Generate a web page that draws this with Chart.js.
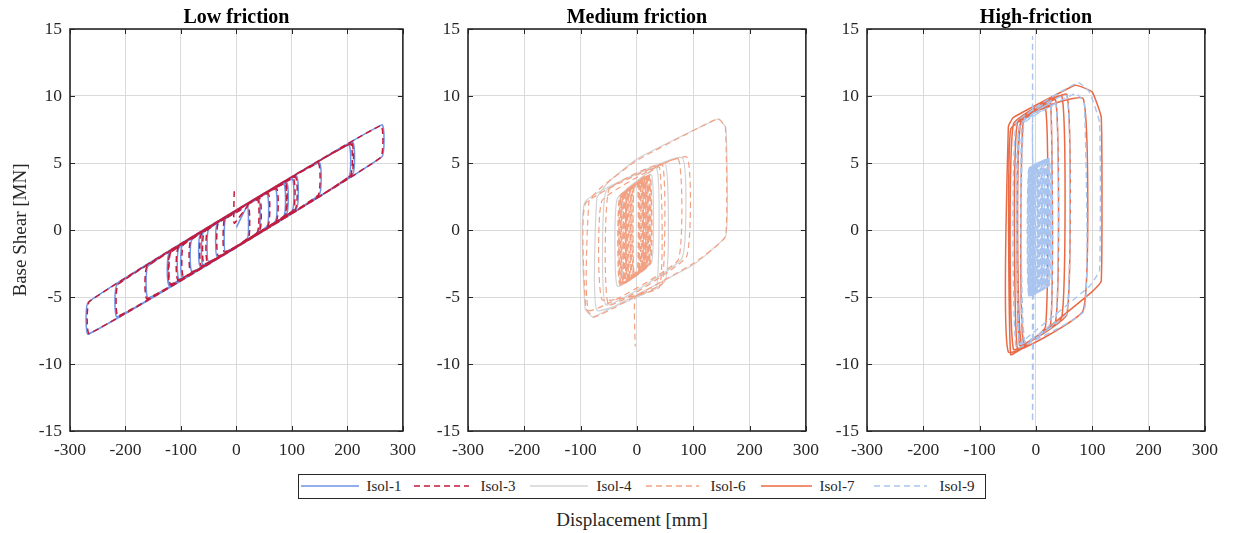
<!DOCTYPE html>
<html>
<head>
<meta charset="utf-8">
<script src="https://cdn.jsdelivr.net/npm/chart.js@4.4.1/dist/chart.umd.min.js"></script>
<style>
  html, body { margin: 0; padding: 0; background: #fff; }
  body { width: 1235px; height: 533px; position: relative; overflow: hidden;
         font-family: 'Liberation Serif', 'Times New Roman', serif; color: #262626; }
  .panel { position: absolute; top: 0; height: 460px; }
  .panel canvas { display: block; }
  #legend { position: absolute; left: 298px; top: 474px; width: 688px; height: 25px;
            box-sizing: border-box; border: 1.6px solid #262626; background: #fff; }
  #legend .sample { position: absolute; top: 0; height: 22px; }
  #legend .name { position: absolute; top: 0; line-height: 22px; font-size: 15px; white-space: nowrap; }
  #xtitle { position: absolute; left: 482px; width: 300px; top: 508px; text-align: center;
            font-size: 19px; line-height: 24px; }
</style>
</head>
<body>
<div class="panel" id="p1"><canvas id="c1"></canvas></div>
<div class="panel" id="p2"><canvas id="c2"></canvas></div>
<div class="panel" id="p3"><canvas id="c3"></canvas></div>
<div id="legend"></div>
<div id="xtitle">Displacement [mm]</div>
<script>
// ---- axes ----
const xTicks = [-300, -200, -100, 0, 100, 200, 300];
const yTicks = [-15, -10, -5, 0, 5, 10, 15];

// ---- panel titles and series names ----
const panelTitles = ['Low friction', 'Medium friction', 'High-friction'];
const seriesNames = ['Isol-1', 'Isol-3', 'Isol-4', 'Isol-6', 'Isol-7', 'Isol-9'];

// ---- displacement [mm], base shear [MN] paths ----
const isol1Low = [
  [0, 0.2], [20, 1.8], [20, -0.6], [-35, -1.98], [-35, 0.43], [40, 2.3], [40, -0.1],
  [-50, -2.35], [-50, 0.05], [55, 2.68], [55, 0.28], [-65, -2.73], [-65, -0.33],
  [70, 3.05], [70, 0.65], [-80, -3.1], [-80, -0.7], [85, 3.43], [85, 1.03],
  [-97, -3.53], [-97, -1.13], [108, 4.0], [108, 1.6], [-103, -3.68], [-103, -1.28],
  [100, 3.8], [100, 1.4], [-121, -4.13], [-121, -1.73], [149, 5.03], [149, 2.63],
  [-159, -5.08], [-159, -2.68], [202, 6.35], [202, 3.95], [-215, -6.48], [-215, -4.08],
  [262, 7.85], [262, 5.45], [-267, -7.78], [-267, -5.38], [209, 6.53], [209, 4.13],
  [-120, -4.1], [-120, -1.7], [90, 3.55], [90, 1.15], [-60, -2.6], [-60, -0.2],
  [40, 2.3], [40, -0.1], [-20, -1.6], [-20, 0.8], [10, 1.55]
];
const isol3Low = [
  [-4, 2.9], [-4, 0.5], [22, 1.85], [22, -0.55], [-33, -1.93], [-33, 0.47], [42, 2.35],
  [42, -0.05], [-52, -2.4], [-52, 0.0], [57, 2.73], [57, 0.33], [-63, -2.68], [-63, -0.28],
  [72, 3.1], [72, 0.7], [-82, -3.15], [-82, -0.75], [87, 3.48], [87, 1.08],
  [-95, -3.48], [-95, -1.08], [106, 3.95], [106, 1.55], [-105, -3.73], [-105, -1.33],
  [102, 3.85], [102, 1.45], [-119, -4.08], [-119, -1.68], [147, 4.98], [147, 2.58],
  [-161, -5.13], [-161, -2.73], [205, 6.43], [205, 4.03], [-213, -6.43], [-213, -4.03],
  [260, 7.8], [260, 5.4], [-265, -7.73], [-265, -5.33], [207, 6.48], [207, 4.08],
  [-118, -4.05], [-118, -1.65], [88, 3.5], [88, 1.1], [-58, -2.55], [-58, -0.15],
  [38, 2.25], [38, -0.15], [-22, -1.65], [-22, 0.75], [8, 1.5]
];
const isol4Med = [
  [0, 3.6], [18, 3.9], [18, -2.7], [-24, -3.9], [-24, 2.6], [26, 4.1], [26, -2.4],
  [-35, -4.2], [-35, 2.3], [50, 5.0], [50, -3.8], [-71, -6.0], [-71, 2.4], [-50, 3.6],
  [0, 5.3], [145, 8.3], [158, 7.6], [158, -0.4], [100, -2.6], [-40, -5.7], [-78, -6.5],
  [-92, -5.9], [-92, 2.1], [80, 5.4], [80, -2.1], [-55, -5.6], [-55, 2.9], [35, 4.6],
  [35, -4.3], [-5, -5.0]
];
const isol6Med = [
  [0, 3.3], [24, 4.0], [24, -2.5], [-30, -4.1], [-30, 2.4], [20, 3.9], [20, -2.6],
  [-26, -4.0], [-26, 2.5], [16, 3.8], [16, -2.7], [-22, -3.9], [-22, 2.6], [12, 3.7],
  [12, -2.8], [-18, -3.7], [-18, 2.8], [22, 4.0], [22, -2.5], [-14, -3.6], [-14, 2.9],
  [18, 3.8], [18, -2.7], [-28, -4.0], [-28, 2.5], [8, 3.5], [8, -3.0], [-10, -3.5],
  [-10, 3.0], [14, 3.7], [14, -2.8], [-20, -3.8], [-20, 2.7], [4, 3.4], [4, -3.1],
  [-6, -3.4], [-6, 3.1], [10, 3.6], [10, -2.9], [-16, -3.7], [-16, 2.8],
  [23, 4.1], [23, -2.4], [-29, -4.0], [-29, 2.5], [19, 4.0], [19, -2.5], [-25, -3.9],
  [-25, 2.6], [15, 3.9], [15, -2.7], [-21, -3.7], [-21, 2.8], [11, 3.7], [11, -2.8],
  [-17, -3.6], [-17, 2.9], [7, 3.6], [7, -2.9], [-13, -3.5], [-13, 3.0], [3, 3.5],
  [3, -3.0], [-9, -3.4], [-9, 3.1], [21, 4.0], [21, -2.5], [-5, -3.3], [-5, 3.3],
  [17, 3.9], [17, -2.6], [-31, -4.0], [-31, 2.5], [13, 3.8], [13, -2.7], [-27, -3.9],
  [-27, 2.6], [9, 3.7], [9, -2.8], [-23, -3.8], [-23, 2.7], [5, 3.6], [5, -3.0],
  [-19, -3.7], [-19, 2.8], [1, 3.4], [1, -3.1], [-15, -3.6], [-15, 2.9], [2, 3.5],
  [2, -3.0], [-11, -3.4], [-11, 3.0], [6, 3.6], [6, -2.9], [-7, -3.3], [-7, 3.2],
  [40, 4.7], [40, -4.25], [-62, -5.2], [-62, 2.2], [73, 5.3], [73, -2.25],
  [-85, -6.0], [-85, 2.2], [-60, 3.3], [0, 5.2], [143, 8.3], [157, 7.7], [157, -0.5],
  [100, -2.5], [-40, -5.8], [-77, -6.5], [-91, -5.8], [-91, 2.0], [88, 5.46], [88, -2.0],
  [-50, -5.6], [-50, 3.0], [45, 4.9], [45, -4.0], [-3, -5.0], [-3, -8.7]
];
const isol7High = [
  [0, 8.8], [26, 9.5], [26, -7.0], [-29, -8.6], [-29, 7.8], [35, 9.7], [35, -6.8],
  [-40, -8.9], [-40, 7.9], [46, 10.0], [46, -6.5], [-26, -8.5], [-26, 8.3], [84, 9.8],
  [84, -6.0], [-49, -9.1], [-49, 7.7], [-40, 8.4], [69, 10.8], [80, 10.7], [100, 10.3],
  [116, 8.4], [116, -3.8], [100, -4.6], [-20, -8.7], [-45, -9.3], [-45, 7.5], [17, 9.1],
  [17, -7.2], [-33, -8.9], [-33, 8.0], [55, 10.1], [55, -6.3], [-22, -8.4], [-22, 8.4],
  [30, 9.3]
];
const isol9High = [
  [-6, 0], [-6, 14.4], [-6, -14.3], [-4, -4.7], [-4, 4.6],
  [23, 5.3], [23, -4.1], [-12, -4.8], [-12, 4.6], [20, 5.2], [20, -4.2], [-9, -4.8],
  [-9, 4.6], [17, 5.1], [17, -4.3], [-6, -4.7], [-6, 4.7], [14, 5.1], [14, -4.3],
  [-3, -4.7], [-3, 4.7], [11, 5.0], [11, -4.4], [0, -4.6], [0, 4.8], [8, 4.9], [8, -4.4],
  [-11, -4.8], [-11, 4.6], [21, 5.2], [21, -4.2], [-7, -4.7], [-7, 4.7], [15, 5.1],
  [15, -4.3], [-4, -4.7], [-4, 4.7], [5, 4.9], [5, -4.5], [-10, -4.8], [-10, 4.6],
  [18, 5.2], [18, -4.2], [-1, -4.6], [-1, 4.8], [12, 5.0], [12, -4.4], [-8, -4.8],
  [-8, 4.6], [9, 5.0], [9, -4.4], [-5, -4.7], [-5, 4.7],
  [22, 5.3], [22, -4.1], [-2, -4.7], [-2, 4.7], [19, 5.2], [19, -4.2], [-13, -4.9],
  [-13, 4.5], [16, 5.1], [16, -4.3], [-9.5, -4.8], [-9.5, 4.6], [13, 5.0], [13, -4.3],
  [-6.5, -4.7], [-6.5, 4.6], [10, 5.0], [10, -4.4], [-3.5, -4.7], [-3.5, 4.7], [7, 4.9],
  [7, -4.5], [-0.5, -4.6], [-0.5, 4.8], [4, 4.9], [4, -4.5], [-12.5, -4.9], [-12.5, 4.5],
  [2, 4.8], [2, -4.6], [-7.5, -4.8], [-7.5, 4.6], [24, 5.3], [24, -4.1], [-4.5, -4.7],
  [-4.5, 4.7], [6, 4.9], [6, -4.5], [-1.5, -4.6], [-1.5, 4.8], [3, 4.9], [3, -4.5],
  [-10.5, -4.8], [-10.5, 4.6], [1, 4.8], [1, -4.6], [-5.5, -4.7], [-5.5, 4.7],
  [-5, 8.6], [26, 9.4], [26, -7.0], [-29, -8.5], [-29, 7.8], [35, 9.6], [35, -6.8],
  [-35, -8.8], [-35, 8.0], [55, 10.0], [55, -6.2], [-20, -8.3], [-20, 8.4], [75, 11.0],
  [95, 10.3], [113, 8.0], [113, -3.0], [95, -4.2], [-15, -8.0], [-30, -8.5], [-30, 7.6],
  [70, 10.2], [86, 9.5], [86, -6.0], [-20, -8.6], [-25, -8.4], [-25, 8.0], [10, 8.9]
];

// ---- line styles per series ----
const seriesStyle = {
  'Isol-1': { color: '#6f93e6', dash: [], width: 1.5 },
  'Isol-3': { color: '#c41a3b', dash: [6, 4], width: 1.5 },
  'Isol-4': { color: '#d3d3d6', dash: [], width: 1.2 },
  'Isol-6': { color: '#f3a183', dash: [6, 4], width: 1.2 },
  'Isol-7': { color: '#ea6a45', dash: [], width: 1.5 },
  'Isol-9': { color: '#a9c4ee', dash: [6, 4], width: 1.4 }
};

const serif = "'Liberation Serif', 'Times New Roman', serif";
const ink = '#262626';

// frame around the plot area plus MATLAB-style inward tick marks on all four sides
const frameTicks = {
  id: 'frameTicks',
  afterDatasetsDraw(chart) {
    const { ctx, chartArea: a, scales: { x, y } } = chart;
    const len = 5;
    ctx.save();
    ctx.strokeStyle = ink;
    ctx.lineWidth = 1;
    ctx.beginPath();
    xTicks.forEach(v => {
      const px = Math.round(x.getPixelForValue(v)) + 0.5;
      ctx.moveTo(px, a.bottom); ctx.lineTo(px, a.bottom - len);
      ctx.moveTo(px, a.top); ctx.lineTo(px, a.top + len);
    });
    yTicks.forEach(v => {
      const py = Math.round(y.getPixelForValue(v)) + 0.5;
      ctx.moveTo(a.left, py); ctx.lineTo(a.left + len, py);
      ctx.moveTo(a.right, py); ctx.lineTo(a.right - len, py);
    });
    ctx.stroke();
    ctx.lineWidth = 1.6;
    ctx.strokeRect(a.left, a.top, a.right - a.left, a.bottom - a.top);
    ctx.restore();
  }
};

function line(name, data, order) {
  const s = seriesStyle[name];
  return {
    label: name, data, order,
    borderColor: s.color, borderDash: s.dash, borderWidth: s.width,
    showLine: true, pointRadius: 0, tension: 0.12, fill: false
  };
}

function panel(containerId, canvasId, left, plotWidth, title, datasets, yTitle) {
  const yW = 70, padR = 14, h = 460;
  const w = yW + plotWidth + padR;
  const box = document.getElementById(containerId);
  box.style.left = left + 'px';
  box.style.width = w + 'px';
  const cv = document.getElementById(canvasId);
  cv.width = w; cv.height = h;
  cv.style.width = w + 'px'; cv.style.height = h + 'px';
  const tickFont = { family: serif, size: 17.5 };
  return new Chart(cv, {
    type: 'scatter',
    data: { datasets },
    options: {
      responsive: false, animation: false, devicePixelRatio: 1, events: [],
      layout: { padding: { left: 0, right: padR, top: 0, bottom: 0 } },
      plugins: {
        legend: { display: false }, tooltip: { enabled: false },
        title: {
          display: true, text: title, fullSize: false, color: '#000',
          font: { family: serif, size: 20, weight: 'bold', lineHeight: 1.0 },
          padding: { top: 8, bottom: 1 }
        }
      },
      scales: {
        x: {
          type: 'linear', min: -300, max: 300,
          afterBuildTicks: s => { s.ticks = xTicks.map(v => ({ value: v })); },
          afterFit: s => { s.height = 29; },
          grid: { color: '#dadada', lineWidth: 1, drawTicks: false },
          border: { display: false },
          ticks: { font: tickFont, color: ink, padding: 9, maxRotation: 0, autoSkip: false }
        },
        y: {
          type: 'linear', min: -15, max: 15,
          afterBuildTicks: s => { s.ticks = yTicks.map(v => ({ value: v })); },
          afterFit: s => { s.width = yW; },
          grid: { color: '#dadada', lineWidth: 1, drawTicks: false },
          border: { display: false },
          ticks: { font: tickFont, color: ink, padding: 8, autoSkip: false },
          title: {
            display: !!yTitle, text: yTitle || '', color: ink,
            font: { family: serif, size: 19 }, padding: { top: 10, bottom: 0 }
          }
        }
      }
    },
    plugins: [frameTicks]
  });
}

panel('p1', 'c1', 0, 341, panelTitles[0],
  [line('Isol-1', isol1Low, 1), line('Isol-3', isol3Low, 0)], 'Base Shear [MN]');
panel('p2', 'c2', 398, 346, panelTitles[1],
  [line('Isol-4', isol4Med, 1), line('Isol-6', isol6Med, 0)], null);
panel('p3', 'c3', 797, 346, panelTitles[2],
  [line('Isol-7', isol7High, 1), line('Isol-9', isol9High, 0)], null);

// shared legend box below the panels
const legendSlots = [
  { line: 302, lineEnd: 360, text: 367 },
  { line: 415, lineEnd: 470, text: 481 },
  { line: 531, lineEnd: 589, text: 597 },
  { line: 647, lineEnd: 700, text: 711 },
  { line: 762, lineEnd: 813, text: 820 },
  { line: 875, lineEnd: 928, text: 940 }
];
const legend = document.getElementById('legend');
const lx = 298 + 1.6;
seriesNames.forEach((name, i) => {
  const slot = legendSlots[i], st = seriesStyle[name];
  const wLine = slot.lineEnd - slot.line;
  const svg = document.createElementNS('http://www.w3.org/2000/svg', 'svg');
  svg.setAttribute('class', 'sample');
  svg.setAttribute('width', wLine);
  svg.setAttribute('height', 22);
  svg.style.left = (slot.line - lx) + 'px';
  const ln = document.createElementNS('http://www.w3.org/2000/svg', 'line');
  ln.setAttribute('x1', 0); ln.setAttribute('x2', wLine);
  ln.setAttribute('y1', 11); ln.setAttribute('y2', 11);
  ln.setAttribute('stroke', st.color);
  ln.setAttribute('stroke-width', 1.3);
  if (st.dash.length) ln.setAttribute('stroke-dasharray', st.dash.join(' '));
  svg.appendChild(ln);
  legend.appendChild(svg);
  const t = document.createElement('div');
  t.className = 'name';
  t.style.left = (slot.text - lx) + 'px';
  t.textContent = name;
  legend.appendChild(t);
});
</script>
</body>
</html>
